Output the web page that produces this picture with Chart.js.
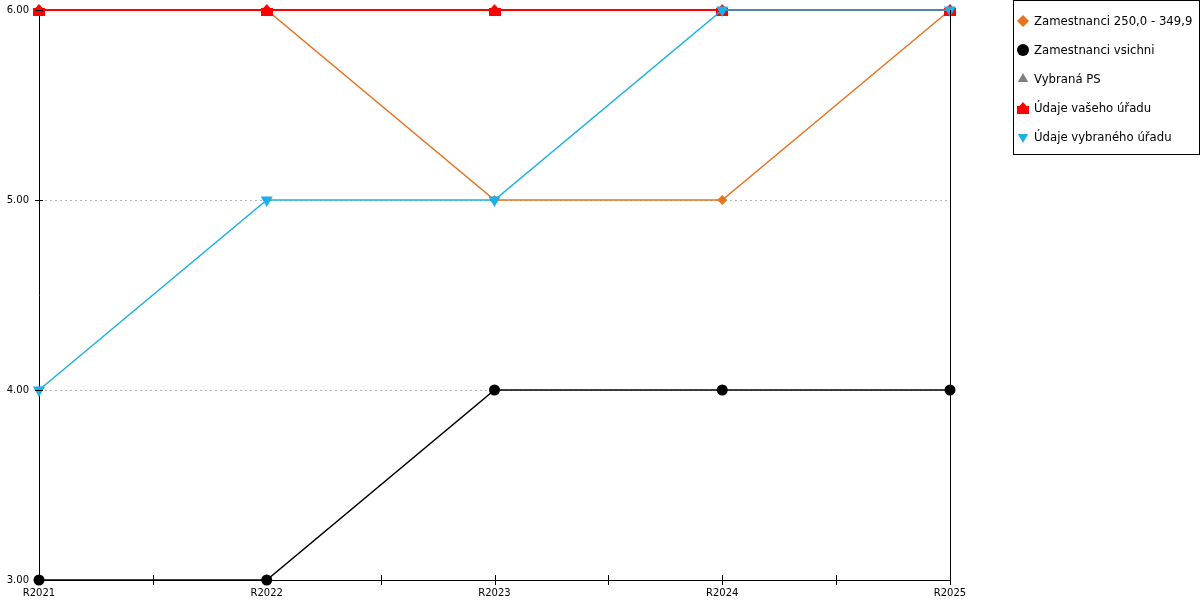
<!DOCTYPE html>
<html>
<head>
<meta charset="utf-8">
<script src="https://cdn.jsdelivr.net/npm/chart.js@4.4.1/dist/chart.umd.min.js"></script>
<style>
    html, body { margin: 0; padding: 0; background: #fff; }
    #wrap { position: relative; width: 1200px; height: 600px; }
    #legend {
        position: absolute; left: 1013px; top: 0; width: 187px; height: 155px;
        box-sizing: border-box; border: 1px solid #000; background: #fff;
        padding-top: 5px;
        font-family: "DejaVu Sans", sans-serif; font-size: 11.7px; color: #000;
    }
    #legend .item { display: flex; align-items: center; height: 29px; }
    #legend canvas { margin-left: 2px; margin-right: 4px; }
</style>
</head>
<body>
<div id="wrap">
    <canvas id="lineChart" width="1200" height="600"></canvas>
    <div id="legend"></div>
</div>
<script>
// categories and series
const years = ['R2021', 'R2022', 'R2023', 'R2024', 'R2025'];
const zamestnanci250 = [6, 6, 5, 5, 6];
const zamestnanciVsichni = [3, 3, 4, 4, 4];
const vybranaPS = [null, null, null, null, null];
const udajeVasehoUradu = [6, 6, 6, 6, 6];
const udajeVybranehoUradu = [4, 5, 5, 6, 6];
const yTicks = [3, 4, 5, 6];

// little "house" marker for the red series
function houseMarker(color) {
    const c = document.createElement('canvas');
    c.width = 12; c.height = 12;
    const g = c.getContext('2d');
    g.fillStyle = color;
    g.beginPath();
    g.moveTo(6, 0);
    g.lineTo(9.5, 4);
    g.lineTo(12, 4);
    g.lineTo(12, 12);
    g.lineTo(0, 12);
    g.lineTo(0, 4);
    g.lineTo(2.5, 4);
    g.closePath();
    g.fill();
    return c;
}

const orange = '#E8731E';
const cyan = '#1CB0E8';
const red = '#FF0000';

const datasets = [
    { label: 'Zamestnanci 250,0 - 349,9', data: zamestnanci250, borderColor: orange, backgroundColor: orange,
      pointStyle: 'rectRot', pointRadius: 5, borderWidth: 1.5, order: 5 },
    { label: 'Zamestnanci vsichni', data: zamestnanciVsichni, borderColor: '#000', backgroundColor: '#000',
      pointStyle: 'circle', pointRadius: 5.5, borderWidth: 1.5, order: 4 },
    { label: 'Vybraná PS', data: vybranaPS, borderColor: '#808080', backgroundColor: '#808080',
      pointStyle: 'triangle', pointRadius: 6, borderWidth: 1.5, order: 3 },
    { label: 'Údaje vašeho úřadu', data: udajeVasehoUradu, borderColor: red, backgroundColor: red,
      pointStyle: houseMarker(red), pointRadius: 6, borderWidth: 2, order: 2 },
    { label: 'Údaje vybraného úřadu', data: udajeVybranehoUradu, borderColor: cyan, backgroundColor: cyan,
      pointStyle: 'triangle', pointRotation: 180, pointRadius: 7, borderWidth: 1.5, order: 1 }
];
datasets.forEach(d => {
    d.pointBackgroundColor = d.backgroundColor;
    d.pointBorderColor = d.backgroundColor;
    d.pointBorderWidth = 0;
    d.pointHoverRadius = d.pointRadius;
    d.tension = 0;
    d.clip = false;
    d.fill = false;
});

// crossing tick marks + right frame line
const frame = {
    id: 'frame',
    afterDraw(chart) {
        const ctx = chart.ctx;
        const area = chart.chartArea;
        const x = chart.scales.x, y = chart.scales.y;
        ctx.save();
        ctx.strokeStyle = '#000';
        ctx.lineWidth = 1;
        ctx.beginPath();
        ctx.moveTo(area.right + 0.5, area.top);
        ctx.lineTo(area.right + 0.5, area.bottom);
        for (let i = 0; i < years.length; i++) {
            const px = Math.round(x.getPixelForValue(i)) + 0.5;
            ctx.moveTo(px, area.bottom - 5);
            ctx.lineTo(px, area.bottom + 5);
            if (i < years.length - 1) {
                const mx = Math.round((x.getPixelForValue(i) + x.getPixelForValue(i + 1)) / 2) + 0.5;
                ctx.moveTo(mx, area.bottom - 5);
                ctx.lineTo(mx, area.bottom + 5);
            }
        }
        yTicks.forEach(v => {
            const py = Math.round(y.getPixelForValue(v)) + 0.5;
            ctx.moveTo(area.left - 4, py);
            ctx.lineTo(area.left + 4, py);
        });
        ctx.stroke();
        ctx.restore();
    }
};

const ctx = document.getElementById('lineChart').getContext('2d');
const chart = new Chart(ctx, {
    type: 'line',
    data: { labels: years, datasets: datasets },
    options: {
        responsive: false,
        animation: false,
        devicePixelRatio: 1,
        layout: { padding: { top: 0, right: 250, left: 0, bottom: 0 } },
        scales: {
            x: {
                offset: false,
                grid: { display: false, drawTicks: false },
                border: { display: true, color: '#000', width: 1 },
                ticks: { color: '#000', font: { family: 'DejaVu Sans', size: 10 }, padding: 7, maxRotation: 0 },
                afterFit(scale) { scale.height = 20; }
            },
            y: {
                min: 3,
                max: 6,
                afterBuildTicks(scale) { scale.ticks = yTicks.map(v => ({ value: v })); },
                grid: { color: '#b4b4b4', drawTicks: false, lineWidth: 1 },
                border: { display: true, color: '#000', width: 1, dash: [2, 3] },
                ticks: {
                    color: '#000', font: { family: 'DejaVu Sans', size: 10 }, padding: 10,
                    callback: v => Number(v).toFixed(2)
                },
                afterFit(scale) {
                    scale.width = 39;
                    scale.paddingTop = 10;
                    scale.paddingBottom = 0;
                }
            }
        },
        plugins: {
            legend: { display: false },
            tooltip: { enabled: false }
        }
    },
    plugins: [frame]
});

// html legend built from the datasets
const legendBox = document.getElementById('legend');
datasets.forEach(d => {
    const row = document.createElement('div');
    row.className = 'item';
    const icon = document.createElement('canvas');
    icon.width = 14; icon.height = 14;
    const g = icon.getContext('2d');
    g.fillStyle = d.backgroundColor;
    g.strokeStyle = d.backgroundColor;
    Chart.helpers.drawPoint(g, { pointStyle: d.pointStyle, rotation: d.pointRotation || 0, radius: 6, borderWidth: 0 }, 7, 7);
    const txt = document.createElement('span');
    txt.textContent = d.label;
    row.appendChild(icon);
    row.appendChild(txt);
    legendBox.appendChild(row);
});
</script>
</body>
</html>
